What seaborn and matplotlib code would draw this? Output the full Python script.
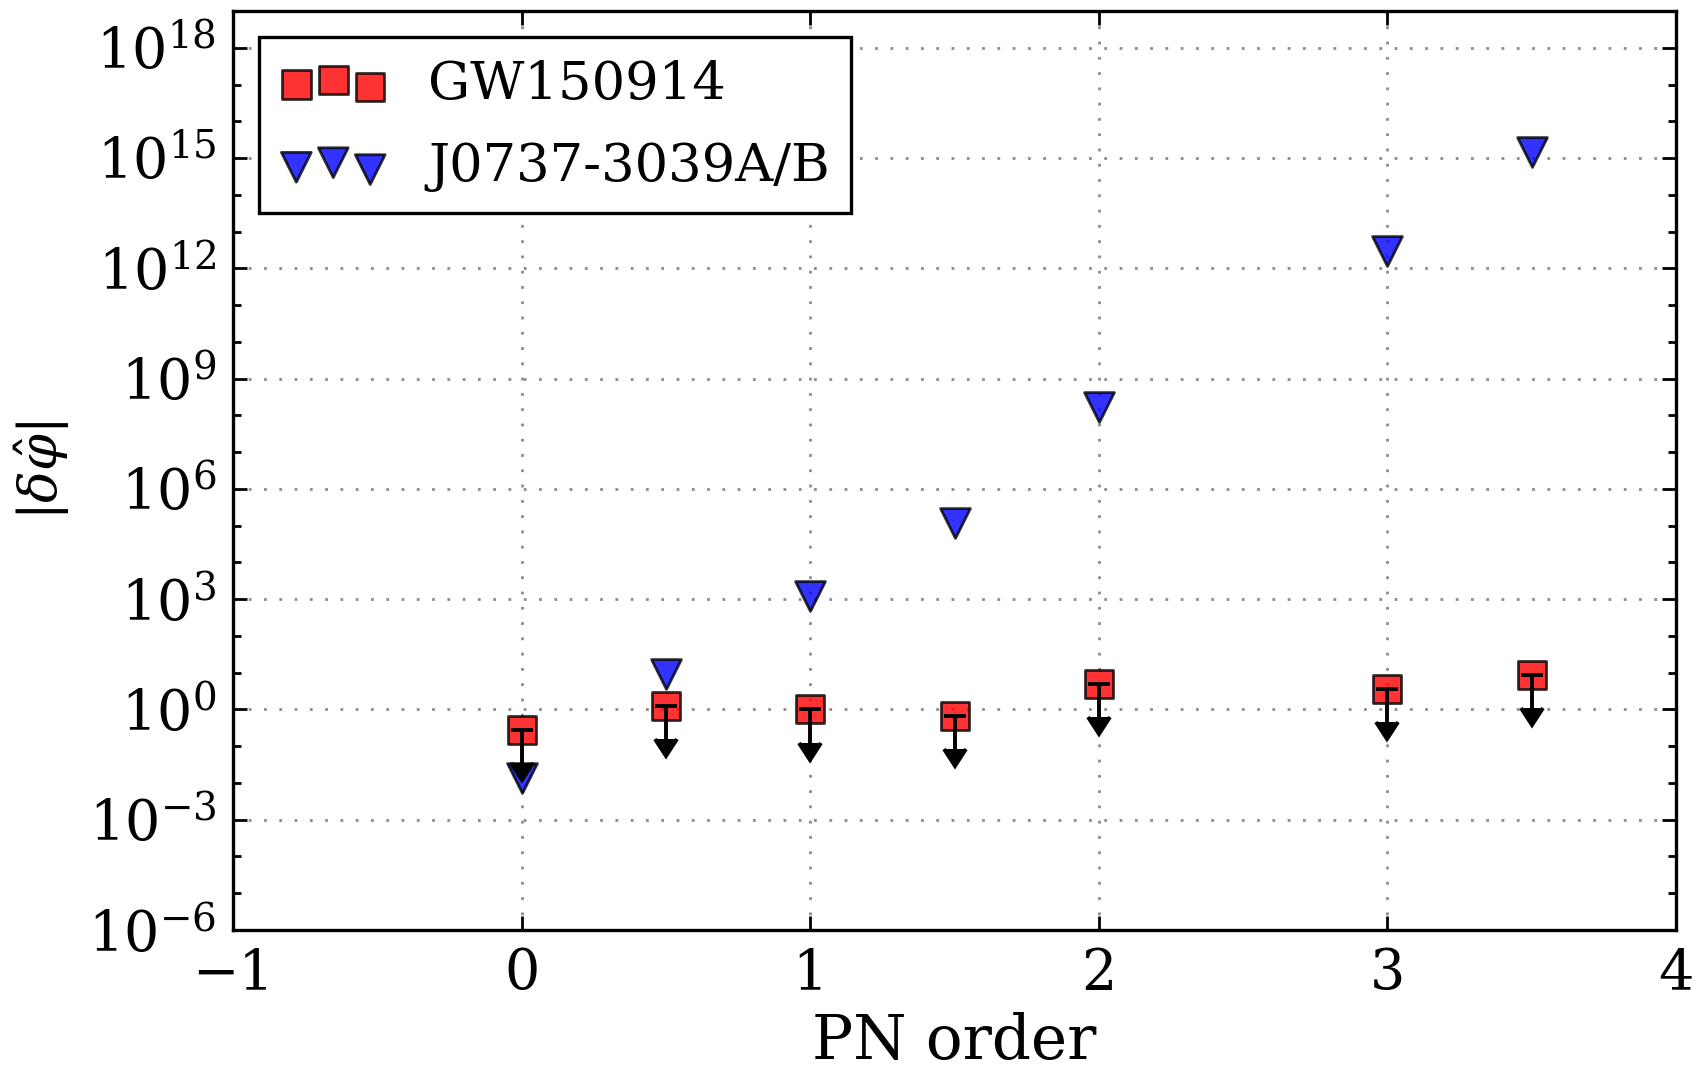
import numpy as np
import pandas as pd
import matplotlib
matplotlib.use("Agg")
import matplotlib.pyplot as plt
import matplotlib.ticker as mticker
import seaborn as sns

# ---- data ----
pn_order = [0.0, 0.5, 1.0, 1.5, 2.0, 3.0, 3.5]
gw150914 = [0.27, 1.26, 1.0, 0.65, 4.9, 3.6, 8.7]
gw_err_low = [0.236, 1.10, 0.874, 0.568, 4.28, 3.15, 7.6]
j0737 = [0.014, 9.2, 1.2e3, 1.2e5, 1.7e8, 2.9e12, 1.5e15]
labels = ["GW150914", "J0737-3039A/B"]
xticks = [-1, 0, 1, 2, 3, 4]
yticks_exp = [-6, -3, 0, 3, 6, 9, 12, 15, 18]

sns.set_style("ticks")
plt.rcParams["font.family"] = ["DejaVu Serif", "DejaVu Sans"]
plt.rcParams["mathtext.fontset"] = "dejavuserif"
for key in ["text.color", "axes.labelcolor", "xtick.color", "ytick.color", "axes.edgecolor"]:
    plt.rcParams[key] = "black"

fig = plt.figure(figsize=(8.505, 5.37), dpi=200)
ax = fig.add_axes([233 / 1701, 1 - 930 / 1074, (1676 - 233) / 1701, (930 - 11) / 1074])

df_gw = pd.DataFrame({"x": pn_order, "y": gw150914})
df_j = pd.DataFrame({"x": pn_order, "y": j0737})

sns.scatterplot(data=df_gw, x="x", y="y", marker="s", color="red", edgecolor="k",
                alpha=0.8, s=105, linewidth=1.0, label=labels[0], ax=ax, zorder=3)
sns.scatterplot(data=df_j, x="x", y="y", marker="v", color="blue", edgecolor="k",
                alpha=0.8, s=115, linewidth=1.0, label=labels[1], ax=ax, zorder=3)

eb = ax.errorbar(pn_order, gw150914, yerr=[gw_err_low, np.zeros(len(gw_err_low))],
                 uplims=True, fmt="none", ecolor="k", elinewidth=1.4, capsize=4.0,
                 capthick=1.4, zorder=4)
for cl in eb[1]:
    cl.set_markerfacecolor("k")
    cl.set_markeredgecolor("k")
    cl.set_color("k")

ax.set_yscale("log")
ax.set_xlim(-1, 4)
ax.set_ylim(1e-6, 1e19)
ax.set_xticks(xticks)
ax.set_xticklabels([("\u2212" if t < 0 else "") + str(abs(t)) for t in xticks])
ax.yaxis.set_major_locator(mticker.FixedLocator([10.0 ** e for e in yticks_exp]))
ax.yaxis.set_major_formatter(mticker.FuncFormatter(lambda v, p: r"$10^{%d}$" % round(np.log10(v))))
ax.yaxis.set_minor_locator(mticker.FixedLocator([10.0 ** e for e in range(-6, 20)]))
ax.yaxis.set_minor_formatter(mticker.NullFormatter())
ax.xaxis.set_minor_locator(mticker.NullLocator())

ax.tick_params(which="both", direction="in", top=True, right=True, width=1.0,
               colors="k", labelcolor="k")
ax.tick_params(which="major", length=5, labelsize=20, pad=6)
ax.tick_params(which="minor", length=2.8)
for sp in ax.spines.values():
    sp.set_linewidth(1.2)
    sp.set_color("k")
    sp.set_visible(True)

ax.grid(True, which="major", color="0.55", linestyle=(0, (1, 4.5)), linewidth=1.0)
ax.set_axisbelow(True)

ax.set_xlabel("PN order", fontsize=22, labelpad=4, color="k")
ax.set_ylabel(r"$|\delta\hat{\varphi}|$", fontsize=19, labelpad=6, color="k")

leg = ax.legend(loc="upper left", scatterpoints=3, fontsize=19, frameon=True,
                fancybox=False, framealpha=1, edgecolor="k", borderpad=0.4,
                handletextpad=0.8, labelspacing=0.6, handlelength=2.0)
leg.get_frame().set_linewidth(1.2)
for t in leg.get_texts():
    t.set_color("k")

fig.savefig("out.png", dpi=200)
